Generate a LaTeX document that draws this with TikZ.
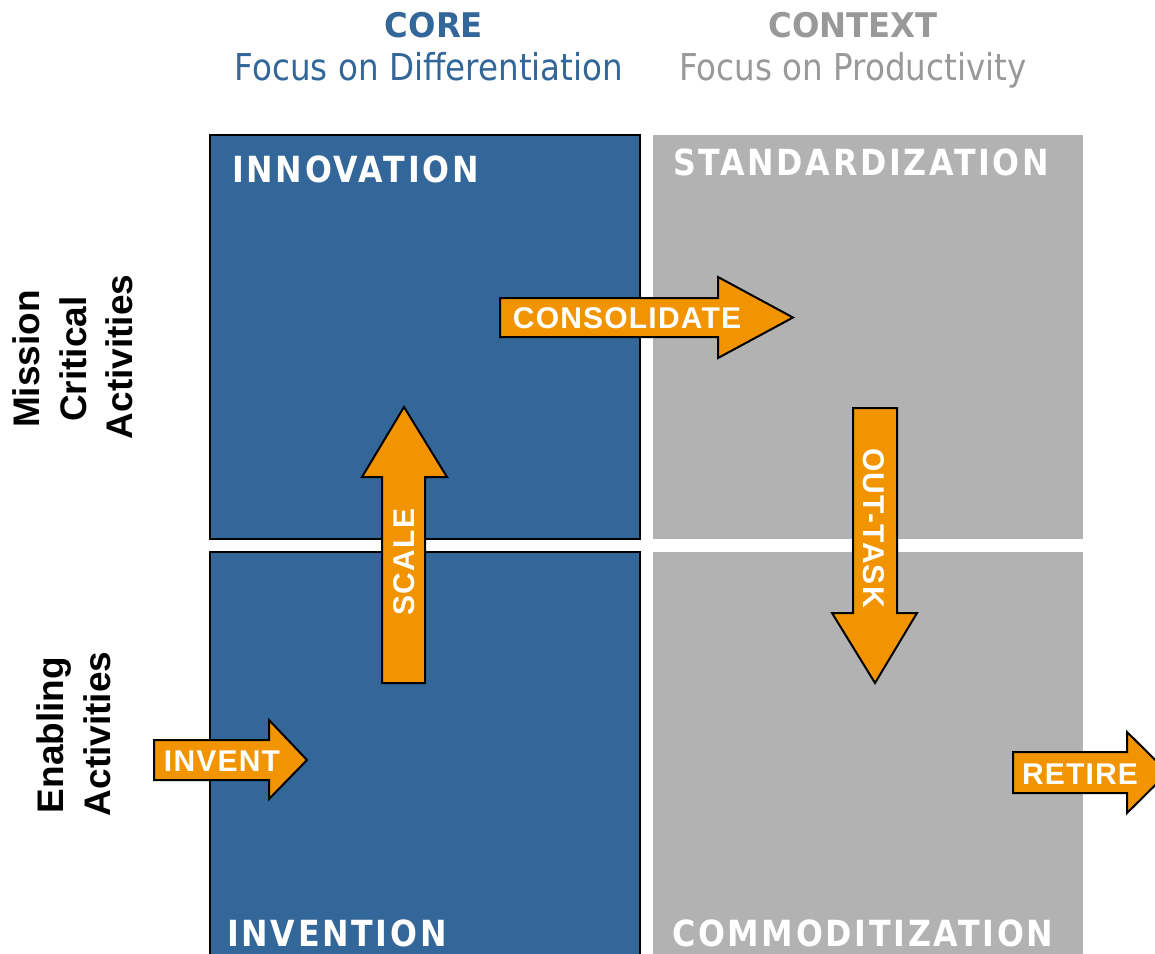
\documentclass[tikz,border=0pt]{standalone}
\usepackage{fontspec}
\newfontfamily\hdfont{DejaVu Sans}[FakeStretch=0.88]
\newfontfamily\hdbfont{DejaVu Sans}[FakeStretch=0.95]
\newfontfamily\qfont{DejaVu Sans}[FakeStretch=0.88,LetterSpace=7.5]
\newfontfamily\arfont{Liberation Sans}[LetterSpace=4]
\newfontfamily\sidefont{Liberation Sans}
\definecolor{coreblue}{HTML}{336699}
\definecolor{ctxgrey}{HTML}{B2B2B2}
\definecolor{ctxtext}{HTML}{999999}
\definecolor{arrorange}{HTML}{F29400}
\tikzset{
  blueq/.style={fill=coreblue,draw=black,line width=2pt},
  greyq/.style={fill=ctxgrey},
  arrowshape/.style={fill=arrorange,draw=black,line width=2pt,line join=miter},
  arrtext/.style={text=white,font=\arfont\bfseries\fontsize{30}{34}\selectfont,inner sep=0pt},
  qlabel/.style={text=white,font=\qfont\bfseries\fontsize{36}{40}\selectfont,inner sep=0pt,anchor=base west},
  hdbold/.style={font=\hdbfont\bfseries\fontsize{34}{38}\selectfont,inner sep=0pt,anchor=base},
  hdreg/.style={font=\hdfont\fontsize{37}{42}\selectfont,inner sep=0pt,anchor=base},
  sidelabel/.style={font=\sidefont\bfseries\fontsize{37}{42}\selectfont,inner sep=0pt,anchor=base,rotate=90}
}
\begin{document}
\begin{tikzpicture}[x=1pt,y=-1pt]
\clip (0,0) rectangle (1155,953);
\fill[white] (0,0) rectangle (1155,953);
% headers
\node[hdbold,text=coreblue] (core) at (434,37) {CORE};
\node[hdreg,text=coreblue] (corefocus) at (429,80) {Focus on Differentiation};
\node[hdbold,text=ctxtext] (ctx) at (853,37) {CONTEXT};
\node[hdreg,text=ctxtext] (ctxfocus) at (853,80) {Focus on Productivity};
% side labels
\node[sidelabel] (mission) at (39,359) {Mission};
\node[sidelabel] (critical) at (86,359) {Critical};
\node[sidelabel] (activa) at (132,357) {Activities};
\node[sidelabel] (enabling) at (63,735) {Enabling};
\node[sidelabel] (activb) at (110,734) {Activities};
% quadrants
\path[blueq] (210,135) rectangle (640,539);
\path[blueq] (210,552) rectangle (640,965);
\path[greyq] (653,135) rectangle (1083,539);
\path[greyq] (653,552) rectangle (1083,965);
\node[qlabel] (innovation) at (232,182) {INNOVATION};
\node[qlabel] (standard) at (673,175) {STANDARDIZATION};
\node[qlabel] (invention) at (227,946) {INVENTION};
\node[qlabel] (commod) at (672,946) {COMMODITIZATION};
% arrows
\path[arrowshape] (154,740) -- (269,740) -- (269,720) -- (307,760) -- (269,799) -- (269,780) -- (154,780) -- cycle;
\node[arrtext] (invent) at (222,761) {INVENT};
\path[arrowshape] (1013,752) -- (1127,752) -- (1127,732) -- (1168,772.5) -- (1127,813) -- (1127,793) -- (1013,793) -- cycle;
\node[arrtext] (retire) at (1080,774) {RETIRE};
\path[arrowshape] (500,298) -- (718,298) -- (718,277) -- (793,317.5) -- (718,358) -- (718,337) -- (500,337) -- cycle;
\node[arrtext] (consolidate) at (627,318) {CONSOLIDATE};
\path[arrowshape] (382,683) -- (382,477) -- (362,477) -- (404,407) -- (447,477) -- (425,477) -- (425,683) -- cycle;
\node[arrtext,rotate=90] (scale) at (404,562) {SCALE};
\path[arrowshape] (853,408) -- (897,408) -- (897,613) -- (917,613) -- (875,683) -- (832,613) -- (853,613) -- cycle;
\node[arrtext,rotate=-90] (outtask) at (874,528) {OUT-TASK};
\end{tikzpicture}
\end{document}
